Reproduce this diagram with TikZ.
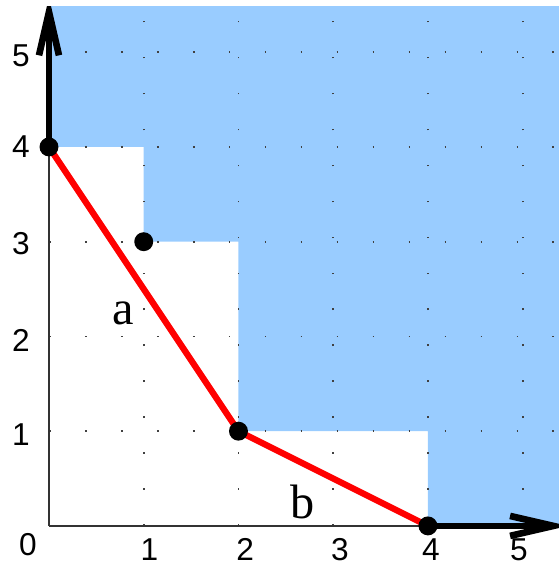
\documentclass[tikz,border=0pt]{standalone}
\usepackage{fontspec}
\setmainfont{Liberation Serif}
\newfontfamily\arialfont{Liberation Sans}
\usetikzlibrary{arrows.meta}
\definecolor{regionblue}{RGB}{153,204,255}
\begin{document}
\begin{tikzpicture}[
  gridline/.style={draw=black!75, line width=0.5pt, dash pattern=on 0.5pt off 10.3pt},
  thinaxis/.style={draw=black!80, line width=0.45pt},
  thickaxis/.style={draw=black, line width=2pt, -{Straight Barb[length=13pt,width=6pt]}},
  redline/.style={draw=red, line width=1.9pt, line join=round},
  ptdot/.style={circle, fill=black, inner sep=0pt, minimum size=0.2cm},
  ticklabel/.style={font=\arialfont\fontsize{9.5pt}{11pt}\selectfont, inner sep=0pt},
  seglabel/.style={font=\fontsize{14.5pt}{17pt}\selectfont, inner sep=0pt, anchor=base}
]
\useasboundingbox (-0.517,-0.423) rectangle (5.383,5.551);
\begin{scope}
\clip (-0.6,-0.5) rectangle (5.383,5.48);
% region
\fill[regionblue] (0,5.6) -- (0,4) -- (1,4) -- (1,3) -- (2,3) -- (2,1) -- (4,1) -- (4,0) -- (5.5,0) -- (5.5,5.6) -- cycle;
% dotted grid
\foreach \k in {1,...,5} {
  \draw[gridline] (\k,0) -- (\k,5.6);
  \draw[gridline] (0,\k) -- (5.5,\k);
}
% thin axes
\coordinate (O) at (0,0);
\coordinate (A) at (0,4);
\coordinate (P) at (1,3);
\coordinate (B) at (2,1);
\coordinate (C) at (4,0);
\coordinate (xend) at (5.48,0);
\coordinate (yend) at (0,5.58);
\draw[thinaxis] (O) -- (C);
\draw[thinaxis] (O) -- (A);
% Newton polygon
\draw[redline] (A) -- (B) -- (C);
% thick axes
\draw[thickaxis] (C) -- (xend);
\draw[thickaxis] (A) -- (yend);
\end{scope}
% points
\node[ptdot] (dA) at (A) {};
\node[ptdot] (dP) at (P) {};
\node[ptdot] (dB) at (B) {};
\node[ptdot] (dC) at (C) {};
% segment labels
\node[seglabel] (la) at (0.78,2.127) {a};
\node[seglabel] (lb) at (2.68,0.074) {b};
% tick labels
\node[ticklabel, anchor=base] (x0) at (-0.222,-0.31) {0};
\node[ticklabel, anchor=base] (x1) at (1.06,-0.37) {1};
\node[ticklabel, anchor=base] (x2) at (2.07,-0.37) {2};
\node[ticklabel, anchor=base] (x3) at (3.07,-0.37) {3};
\node[ticklabel, anchor=base] (x4) at (4.03,-0.37) {4};
\node[ticklabel, anchor=base] (x5) at (4.96,-0.37) {5};
\node[ticklabel] (y1) at (-0.296,0.96) {1};
\node[ticklabel] (y2) at (-0.296,1.96) {2};
\node[ticklabel] (y3) at (-0.296,2.98) {3};
\node[ticklabel] (y4) at (-0.296,4.0) {4};
\node[ticklabel] (y5) at (-0.296,4.96) {5};
\end{tikzpicture}
\end{document}
